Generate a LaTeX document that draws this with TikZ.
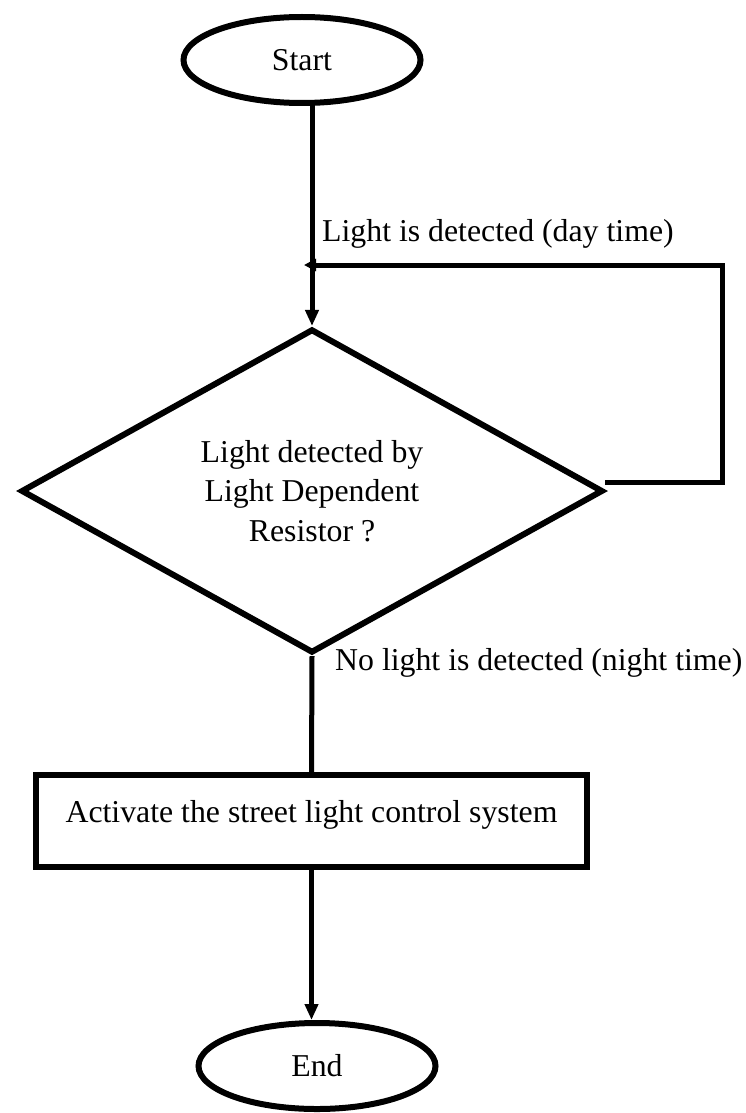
\documentclass[tikz,border=0pt]{standalone}
\usepackage{fontspec}
\setmainfont{Liberation Serif}
\usetikzlibrary{shapes.geometric,arrows.meta,calc}

\begin{document}
\begin{tikzpicture}[x=1pt,y=-1pt,
  every node/.style={font=\fontsize{31.8}{39.5}\selectfont, inner sep=0pt},
  terminal/.style={draw, ellipse, line width=6pt, minimum width=237pt, minimum height=86pt},
  decision/.style={draw, diamond, line width=6pt, minimum width=582pt, minimum height=282pt, align=center},
  procbox/.style={draw, rectangle, line width=6pt, minimum width=551pt, minimum height=92pt},
  flow/.style={line width=5pt},
  flowarrow/.style={flow, -{Triangle[length=16pt,width=13pt]}},
  backarrow/.style={flow, -{Triangle[length=12pt,width=12pt]}},
  edgelabel/.style={anchor=base west}
]
\useasboundingbox (0,0) rectangle (746,1113);

% nodes of the flow
\node[terminal] (start) at (302,60) {Start};
\node[decision] (dec) at (312,491) {Light detected by\\Light Dependent\\Resistor ?};
\node[procbox] (act) at (311.5,821) {};
\node (acttext) at ([yshift=6pt]act.center) {Activate the street light control system};
\node[terminal] (end) at (317,1066) {End};

% main flow
\draw[flowarrow] (start.south -| dec.north) -- (dec.north);
\draw[flow] (dec.south) -- (act.north);
\draw[flowarrow] (act.south) -- (act.south |- end.north);

% loop back while it is light
\coordinate (loopout) at ($(dec.east)+(-1,-9)$);
\coordinate (looptop) at (722,265);
\coordinate (fbend) at (304,265);
\draw[backarrow] (loopout) -| (looptop) -- (fbend);

% branch labels
\node[edgelabel] (daylbl) at (322,241) {Light is detected (day time)};
\node[edgelabel] (nightlbl) at (335,670) {No light is detected (night time)};
\end{tikzpicture}
\end{document}
